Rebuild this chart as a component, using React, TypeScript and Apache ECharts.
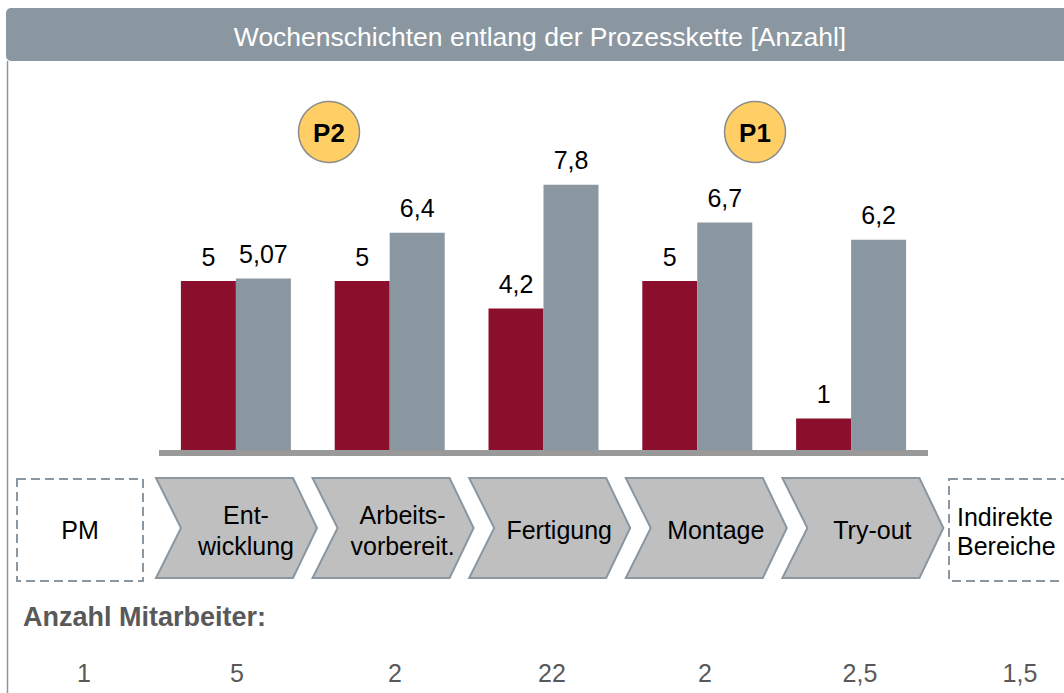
import React, { useEffect, useRef } from "react";
import * as echarts from "echarts";

// ---- data ----
const categories = ["Entwicklung", "Arbeitsvorbereitung", "Fertigung", "Montage", "Try-out"];
const sollValues = [5, 5, 4.2, 5, 1];
const istValues = [5.07, 6.4, 7.8, 6.7, 6.2];
const processLabels = ["Ent-\nwicklung", "Arbeits-\nvorbereit.", "Fertigung", "Montage", "Try-out"];
const staffLabels = ["1", "5", "2", "22", "2", "2,5", "1,5"];
const priorities = ["P2", "P1"];

// ---- layout / style ----
const FONT = "'Liberation Sans', Arial, Helvetica, sans-serif";
const RED = "#8B0E2C";
const GREY = "#8A96A0";
const FRAME = "#8A97A1";
const staffX = [84, 237, 395, 552, 705, 860, 1020];
const priorityX = [329, 755];

const fmt = (v: number) => String(v).replace(".", ",");

export default function App() {
  const ref = useRef<HTMLDivElement>(null);

  useEffect(() => {
    document.body.style.margin = "0";
    const chart = echarts.init(ref.current!, null, { renderer: "svg" });

    const centerText = { align: "center", verticalAlign: "middle", textAlign: "center", textVerticalAlign: "middle" };
    const leftText = { align: "left", verticalAlign: "middle", textAlign: "left", textVerticalAlign: "middle" };

    const elements: any[] = [];
    // header
    elements.push({
      type: "rect",
      shape: { x: 6, y: 8, width: 1070, height: 53, r: [5, 0, 0, 5] },
      style: { fill: FRAME },
      z: 1,
    });
    elements.push({
      type: "text",
      style: {
        text: "Wochenschichten entlang der Prozesskette [Anzahl]",
        x: 540, y: 37, fill: "#ffffff", font: `26.5px ${FONT}`, ...centerText,
      },
      z: 2,
    });
    // left frame line
    elements.push({
      type: "line",
      shape: { x1: 7.5, y1: 61, x2: 7.5, y2: 693 },
      style: { stroke: FRAME, lineWidth: 1.5 },
      z: 1,
    });
    // PM dashed box
    elements.push({
      type: "rect",
      shape: { x: 17, y: 479, width: 126, height: 102 },
      style: { fill: "#ffffff", stroke: FRAME, lineWidth: 2, lineDash: [9, 5] },
      z: 1,
    });
    elements.push({
      type: "text",
      style: { text: "PM", x: 80, y: 530, fill: "#000", font: `25px ${FONT}`, ...centerText },
      z: 2,
    });
    // Indirekte Bereiche dashed box
    elements.push({
      type: "rect",
      shape: { x: 949, y: 479, width: 130, height: 102 },
      style: { fill: "#ffffff", stroke: FRAME, lineWidth: 2, lineDash: [9, 5] },
      z: 1,
    });
    elements.push({
      type: "text",
      style: {
        text: "Indirekte\nBereiche", x: 957, y: 531, fill: "#000", font: `25px ${FONT}`, lineHeight: 29, ...leftText,
      },
      z: 2,
    });
    // chevrons
    processLabels.forEach((lbl, i) => {
      const x0 = 156 + 156.6 * i;
      elements.push({
        type: "polygon",
        shape: {
          points: [
            [x0, 478], [x0 + 137, 478], [x0 + 161, 528],
            [x0 + 137, 578], [x0, 578], [x0 + 25, 528],
          ],
        },
        style: { fill: "#BFBFBF", stroke: FRAME, lineWidth: 2 },
        z: 1,
      });
      elements.push({
        type: "text",
        style: { text: lbl, x: x0 + 90, y: 530, fill: "#000", font: `25px ${FONT}`, lineHeight: 31, ...centerText },
        z: 2,
      });
    });
    // Anzahl Mitarbeiter
    elements.push({
      type: "text",
      style: { text: "Anzahl Mitarbeiter:", x: 23, y: 617, fill: "#595959", font: `bold 27px ${FONT}`, ...leftText },
      z: 2,
    });
    staffLabels.forEach((s, i) => {
      elements.push({
        type: "text",
        style: { text: s, x: staffX[i], y: 673, fill: "#595959", font: `25px ${FONT}`, ...centerText },
        z: 2,
      });
    });
    // priority circles
    priorities.forEach((p, i) => {
      elements.push({
        type: "circle",
        shape: { cx: priorityX[i], cy: 132, r: 30.5 },
        style: { fill: "#FFCF66", stroke: "#8C8C8C", lineWidth: 1.5 },
        z: 1,
      });
      elements.push({
        type: "text",
        style: { text: p, x: priorityX[i], y: 133, fill: "#000", font: `bold 26px ${FONT}`, ...centerText },
        z: 2,
      });
    });

    const labelCfg = {
      show: true,
      position: "top",
      distance: 12,
      color: "#000",
      fontSize: 25,
      fontFamily: FONT,
      formatter: (p: any) => fmt(p.value),
    };

    chart.setOption({
      animation: false,
      backgroundColor: "#ffffff",
      grid: { left: 159, right: 136, top: 109, bottom: 240, containLabel: false },
      xAxis: {
        type: "category",
        data: categories,
        z: 5,
        axisLine: { show: true, lineStyle: { color: "#999999", width: 6, cap: "butt" } },
        axisTick: { show: false },
        axisLabel: { show: false },
      },
      yAxis: {
        type: "value",
        min: 0,
        max: 10,
        show: false,
        splitLine: { show: false },
      },
      series: [
        {
          name: "Soll",
          type: "bar",
          data: sollValues,
          barWidth: 55,
          barGap: "0%",
          itemStyle: { color: RED },
          label: labelCfg,
        },
        {
          name: "Ist",
          type: "bar",
          data: istValues,
          barWidth: 55,
          barGap: "0%",
          itemStyle: { color: GREY },
          label: labelCfg,
        },
      ],
      graphic: { elements },
    });

    return () => chart.dispose();
  }, []);

  return <div ref={ref} style={{ width: 1064, height: 693 }} />;
}
